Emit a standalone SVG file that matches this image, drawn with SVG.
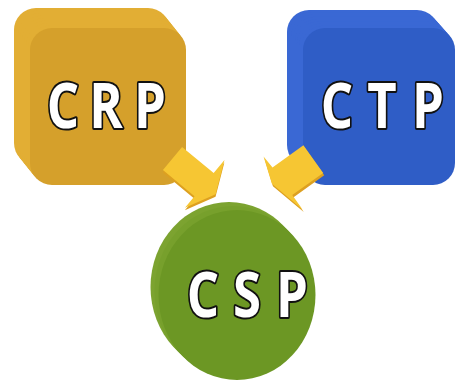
<svg xmlns="http://www.w3.org/2000/svg" width="459" height="383" viewBox="0 0 459 383">
<defs>
<style>
.lbl{font-family:"Open Sans","DejaVu Sans",sans-serif;font-weight:bold;font-size:62px;fill:#ffffff;stroke:#111111;stroke-width:4;paint-order:stroke;stroke-linejoin:round;text-anchor:middle}
.arr{fill:#F6C633}
.arrs{fill:#DDA020}
</style>
<rect id="sqA" width="156" height="157" rx="22"/>
<rect id="sqB" width="152" height="157" rx="22"/>
<polygon id="ar1" points="0,-15 41,-15 41,-32 56,0 41,30 41,15 0,15"/>
<polygon id="ar2" points="0,-17 38,-17 38,-35 48,4 39,31 38,17 0,17"/>
</defs>
<rect width="459" height="383" fill="#ffffff"/>
<g id="CRP">
<g fill="#E2AE34">
<use href="#sqA" x="14" y="8"/>
<use href="#sqA" x="16" y="10.5"/>
<use href="#sqA" x="18" y="13"/>
<use href="#sqA" x="20" y="15.5"/>
<use href="#sqA" x="22" y="18"/>
<use href="#sqA" x="24" y="20.5"/>
<use href="#sqA" x="26" y="23"/>
<use href="#sqA" x="28" y="25.5"/>
</g>
<use href="#sqA" x="30" y="28" fill="#D5A02B"/>
<text class="lbl" transform="scale(0.82,1)" x="76.8 129.3 182.9" y="128">CRP</text>
</g>
<g id="CTP">
<g fill="#3A68D4">
<use href="#sqB" x="287" y="10"/>
<use href="#sqB" x="289" y="12.25"/>
<use href="#sqB" x="291" y="14.5"/>
<use href="#sqB" x="293" y="16.75"/>
<use href="#sqB" x="295" y="19"/>
<use href="#sqB" x="297" y="21.25"/>
<use href="#sqB" x="299" y="23.5"/>
<use href="#sqB" x="301" y="25.75"/>
</g>
<use href="#sqB" x="303" y="28" fill="#2F5DC6"/>
<text class="lbl" transform="scale(0.82,1)" x="411 465.9 522" y="128">CTP</text>
</g>
<g id="CSP">
<ellipse cx="229" cy="287" rx="78.5" ry="85" fill="#7CA330"/>
<ellipse cx="233" cy="291" rx="78.5" ry="85" fill="#77A02C"/>
<ellipse cx="237" cy="295" rx="78.5" ry="85" fill="#6C9724"/>
<text class="lbl" transform="scale(0.82,1)" x="247.6 301.2 356.1" y="317">CSP</text>
</g>
<g id="connectors">
<g transform="translate(172.5,158.5) rotate(39.6)">
<use href="#ar1" class="arrs" x="1.5" y="2"/>
<use href="#ar1" class="arr"/>
</g>
<g transform="translate(313.3,159.2) rotate(144.5)">
<use href="#ar2" class="arrs" x="0.5" y="-2.5"/>
<use href="#ar2" class="arr"/>
</g>
</g>
</svg>
